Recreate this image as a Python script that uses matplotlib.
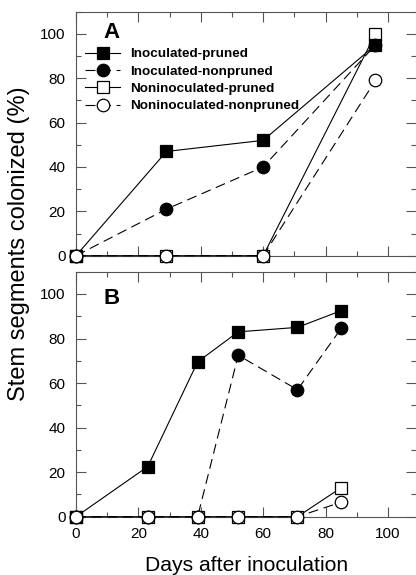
import matplotlib
matplotlib.use("Agg")
import matplotlib.pyplot as plt
from matplotlib.ticker import MultipleLocator

plt.rcParams['font.family'] = ['Liberation Sans', 'DejaVu Sans']

labels = ["Inoculated-pruned", "Inoculated-nonpruned",
          "Noninoculated-pruned", "Noninoculated-nonpruned"]

# Panel A
a_days = [0, 29, 60, 96]
a_inoc_pruned = [0, 47, 52, 95]
a_inoc_nonpruned = [0, 21, 40, 95]
a_non_pruned = [0, 0, 0, 100]
a_non_nonpruned = [0, 0, 0, 79]

# Panel B
b_days = [0, 23, 39, 52, 71, 85]
b_inoc_pruned = [0, 22.5, 69.5, 83, 85, 92.5]
b_inoc_nonpruned = [0, 0, 0, 72.5, 57, 84.5]
b_non_pruned = [0, 0, 0, 0, 0, 13]
b_non_nonpruned = [0, 0, 0, 0, 0, 6.5]

W, H = 416, 575
fig = plt.figure(figsize=(W/100, H/100), dpi=100)

def axpos(l, t, r, b):
    return [l/W, 1 - b/H, (r - l)/W, (b - t)/H]

axA = fig.add_axes(axpos(76, 11.7, 416, 255.7))
axB = fig.add_axes(axpos(76, 271.7, 416, 516.7))

styles = [
    dict(marker='s', ls='-', mfc='black'),
    dict(marker='o', ls=(0, (9, 5)), mfc='black'),
    dict(marker='s', ls='-', mfc='white'),
    dict(marker='o', ls=(0, (9, 5)), mfc='white'),
]
spine_col = '#555555'

def draw(ax, days, series, letter, ly):
    order = [2, 0, 1, 3]
    handles = {}
    for i in order:
        st = styles[i]
        h, = ax.plot(days, series[i], color='black', lw=0.8, ls=st['ls'],
                     marker=st['marker'], mfc=st['mfc'], mec='black', mew=0.9,
                     ms=9 if st['marker'] == 'o' else 8.5, clip_on=False,
                     label=labels[i], zorder=3 + order.index(i))
        handles[i] = h
    ax.set_xlim(0, 109)
    ax.set_ylim(0, 110)
    ax.xaxis.set_major_locator(MultipleLocator(20))
    ax.xaxis.set_minor_locator(MultipleLocator(10))
    ax.yaxis.set_major_locator(MultipleLocator(20))
    ax.yaxis.set_minor_locator(MultipleLocator(10))
    ax.tick_params(which='both', direction='in', top=True, right=True,
                   color=spine_col, labelsize=11, pad=7.5, width=0.8)
    ax.tick_params(which='major', length=7)
    ax.tick_params(which='minor', length=3.5)
    for s in ax.spines.values():
        s.set_color(spine_col)
        s.set_linewidth(0.8)
    ax.spines['right'].set_visible(False)
    ax.text(11.5, ly, letter, fontsize=16, fontweight='bold', ha='center', va='center')
    return handles

hA = draw(axA, a_days, [a_inoc_pruned, a_inoc_nonpruned, a_non_pruned, a_non_nonpruned], 'A', 100.5)
hB = draw(axB, b_days, [b_inoc_pruned, b_inoc_nonpruned, b_non_pruned, b_non_nonpruned], 'B', 98)

axA.tick_params(labelbottom=False)
axA.legend([hA[i] for i in range(4)], labels, loc='upper left',
           bbox_to_anchor=(0.027, 0.852), frameon=False, borderpad=0,
           handlelength=2.6, handletextpad=0.72, labelspacing=0.37,
           prop=dict(weight='bold', size=9.7), borderaxespad=0)

fig.text(25/W, 1 - 244/H, "Stem segments colonized (%)", rotation=90,
         rotation_mode='anchor', fontsize=17, ha='center', va='baseline')
fig.text(247/W, 1 - 571/H, "Days after inoculation", fontsize=15.2,
         ha='center', va='baseline')

fig.savefig("out.png", dpi=100)
